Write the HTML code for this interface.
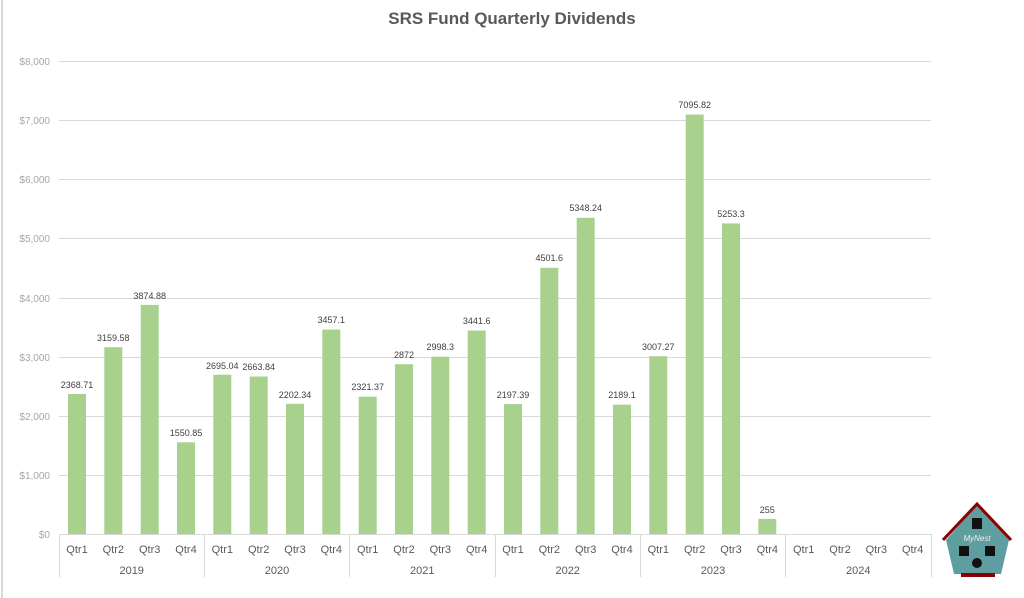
<!DOCTYPE html>
<html><head><meta charset="utf-8"><style>
body{margin:0;background:#fff;}
svg{display:block;font-family:"Liberation Sans",Arial,sans-serif;}
.t{font-size:9px;fill:#404040;text-anchor:middle;}
.q{font-size:11px;fill:#595959;text-anchor:middle;}
.y{font-size:10px;fill:#a6a6a6;text-anchor:end;}
</style></head><body>
<svg width="1024" height="598" viewBox="0 0 1024 598">
<rect width="1024" height="598" fill="#fff"/>
<line x1="2" y1="0" x2="2" y2="598" stroke="#d9d9d9" stroke-width="2"/>
<text x="512" y="24" text-anchor="middle" font-size="17" font-weight="bold" fill="#595959">SRS Fund Quarterly Dividends</text>
<g stroke="#d9d9d9" stroke-width="1">
<line x1="59" y1="61.5" x2="931" y2="61.5"/><line x1="59" y1="120.5" x2="931" y2="120.5"/>
<line x1="59" y1="179.5" x2="931" y2="179.5"/><line x1="59" y1="238.5" x2="931" y2="238.5"/>
<line x1="59" y1="298.5" x2="931" y2="298.5"/><line x1="59" y1="357.5" x2="931" y2="357.5"/>
<line x1="59" y1="416.5" x2="931" y2="416.5"/><line x1="59" y1="475.5" x2="931" y2="475.5"/>
<line x1="59" y1="534.5" x2="931" y2="534.5"/>
<line x1="59.5" y1="534" x2="59.5" y2="577"/><line x1="204.5" y1="534" x2="204.5" y2="577"/>
<line x1="349.5" y1="534" x2="349.5" y2="577"/><line x1="495.5" y1="534" x2="495.5" y2="577"/>
<line x1="640.5" y1="534" x2="640.5" y2="577"/><line x1="785.5" y1="534" x2="785.5" y2="577"/>
<line x1="931.5" y1="534" x2="931.5" y2="577"/>
</g>
<g class="y">
<text x="50" y="65">$8,000</text><text x="50" y="124">$7,000</text><text x="50" y="183">$6,000</text>
<text x="50" y="242">$5,000</text><text x="50" y="302">$4,000</text><text x="50" y="361">$3,000</text>
<text x="50" y="420">$2,000</text><text x="50" y="479">$1,000</text><text x="50" y="538">$0</text>
</g>
<g fill="#a9d18e">
<rect x="68" y="394" width="18" height="140"/><rect x="104.3" y="347.2" width="18" height="186.8"/>
<rect x="140.7" y="304.9" width="18" height="229.1"/><rect x="177" y="442.3" width="18" height="91.7"/>
<rect x="213.3" y="374.7" width="18" height="159.3"/><rect x="249.7" y="376.5" width="18" height="157.5"/>
<rect x="286" y="403.8" width="18" height="130.2"/><rect x="322.3" y="329.6" width="18" height="204.4"/>
<rect x="358.7" y="396.7" width="18" height="137.3"/><rect x="395" y="364.2" width="18" height="169.8"/>
<rect x="431.3" y="356.7" width="18" height="177.3"/><rect x="467.7" y="330.5" width="18" height="203.5"/>
<rect x="504" y="404.1" width="18" height="129.9"/><rect x="540.3" y="267.8" width="18" height="266.2"/>
<rect x="576.7" y="217.8" width="18" height="316.2"/><rect x="613" y="404.6" width="18" height="129.4"/>
<rect x="649.3" y="356.2" width="18" height="177.8"/><rect x="685.7" y="114.5" width="18" height="419.5"/>
<rect x="722" y="223.4" width="18" height="310.6"/><rect x="758.3" y="518.9" width="18" height="15.1"/>
</g>
<g class="t">
<text x="77" y="388">2368.71</text><text x="113.3" y="341">3159.58</text><text x="149.7" y="299">3874.88</text>
<text x="186" y="436">1550.85</text><text x="222.3" y="369">2695.04</text><text x="258.7" y="370">2663.84</text>
<text x="295" y="398">2202.34</text><text x="331.3" y="323">3457.1</text><text x="367.7" y="390">2321.37</text>
<text x="404" y="358">2872</text><text x="440.3" y="350">2998.3</text><text x="476.7" y="324">3441.6</text>
<text x="513" y="398">2197.39</text><text x="549.3" y="261">4501.6</text><text x="585.7" y="211">5348.24</text>
<text x="622" y="398">2189.1</text><text x="658.3" y="350">3007.27</text><text x="694.7" y="108">7095.82</text>
<text x="731" y="217">5253.3</text><text x="767.3" y="513">255</text>
</g>
<g class="q">
<text x="77" y="553">Qtr1</text><text x="113.3" y="553">Qtr2</text><text x="149.7" y="553">Qtr3</text><text x="186" y="553">Qtr4</text>
<text x="222.3" y="553">Qtr1</text><text x="258.7" y="553">Qtr2</text><text x="295" y="553">Qtr3</text><text x="331.3" y="553">Qtr4</text>
<text x="367.7" y="553">Qtr1</text><text x="404" y="553">Qtr2</text><text x="440.3" y="553">Qtr3</text><text x="476.7" y="553">Qtr4</text>
<text x="513" y="553">Qtr1</text><text x="549.3" y="553">Qtr2</text><text x="585.7" y="553">Qtr3</text><text x="622" y="553">Qtr4</text>
<text x="658.3" y="553">Qtr1</text><text x="694.7" y="553">Qtr2</text><text x="731" y="553">Qtr3</text><text x="767.3" y="553">Qtr4</text>
<text x="803.7" y="553">Qtr1</text><text x="840" y="553">Qtr2</text><text x="876.3" y="553">Qtr3</text><text x="912.7" y="553">Qtr4</text>
<text x="131.7" y="574">2019</text><text x="277" y="574">2020</text><text x="422.3" y="574">2021</text>
<text x="567.7" y="574">2022</text><text x="713" y="574">2023</text><text x="858.3" y="574">2024</text>
</g>
<g>
<polygon points="977,505 1009,540 1001,574 954,574 946,540" fill="#5f9ea0"/>
<polyline points="943,540 977,504 1011,540" fill="none" stroke="#8b0000" stroke-width="3"/>
<rect x="961" y="573" width="34" height="4" fill="#8b0000"/>
<rect x="972" y="518" width="10" height="11" fill="#111"/>
<rect x="959" y="546" width="10" height="10" fill="#111"/><rect x="985" y="546" width="10" height="10" fill="#111"/>
<circle cx="977" cy="563" r="5" fill="#111"/>
<text x="977" y="541" text-anchor="middle" font-size="8" font-style="italic" fill="#eee">MyNest</text>
</g>
</svg>
</body></html>
